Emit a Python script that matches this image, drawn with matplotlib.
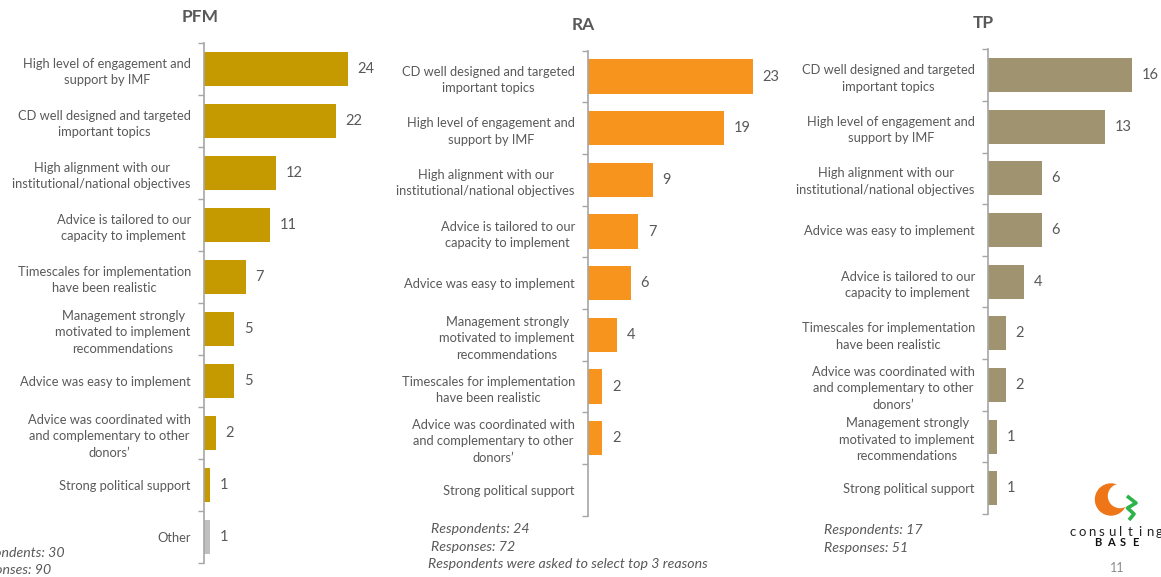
import numpy as np
import matplotlib
matplotlib.use("Agg")
import matplotlib.pyplot as plt
from matplotlib.patches import Circle

plt.rcParams['font.family'] = ['Lato', 'DejaVu Sans']

W, H, DPI = 1161, 577, 100

# ---- data -------------------------------------------------------------
pfm_labels = [
    "High level of engagement and\nsupport by IMF",
    "CD well designed and targeted\nimportant topics",
    "High alignment with our\ninstitutional/national objectives",
    "Advice is tailored to our\ncapacity to implement",
    "Timescales for implementation\nhave been realistic",
    "Management strongly\nmotivated to implement\nrecommendations",
    "Advice was easy to implement",
    "Advice was coordinated with\nand complementary to other\ndonors\u2019",
    "Strong political support",
    "Other",
]
pfm_values = [24, 22, 12, 11, 7, 5, 5, 2, 1, 1]

ra_labels = [
    "CD well designed and targeted\nimportant topics",
    "High level of engagement and\nsupport by IMF",
    "High alignment with our\ninstitutional/national objectives",
    "Advice is tailored to our\ncapacity to implement",
    "Advice was easy to implement",
    "Management strongly\nmotivated to implement\nrecommendations",
    "Timescales for implementation\nhave been realistic",
    "Advice was coordinated with\nand complementary to other\ndonors\u2019",
    "Strong political support",
]
ra_values = [23, 19, 9, 7, 6, 4, 2, 2, 0]

tp_labels = [
    "CD well designed and targeted\nimportant topics",
    "High level of engagement and\nsupport by IMF",
    "High alignment with our\ninstitutional/national objectives",
    "Advice was easy to implement",
    "Advice is tailored to our\ncapacity to implement",
    "Timescales for implementation\nhave been realistic",
    "Advice was coordinated with\nand complementary to other\ndonors\u2019",
    "Management strongly\nmotivated to implement\nrecommendations",
    "Strong political support",
]
tp_values = [16, 13, 6, 6, 4, 2, 2, 1, 1]

GOLD = "#C49A00"
ORANGE = "#F7941D"
KHAKI = "#A09370"
GREY_BAR = "#BFBFBF"
TEXT = "#595959"
SPINE = "#A6A6A6"

pfm_colors = [GOLD] * (len(pfm_values) - 1) + [GREY_BAR]
ra_colors = [ORANGE] * len(ra_values)
tp_colors = [KHAKI] * len(tp_values)

fig = plt.figure(figsize=(W / DPI, H / DPI), dpi=DPI)
fig.patch.set_facecolor("white")


def px_axes(left, top, width, height):
    return fig.add_axes([left / W, 1 - (top + height) / H, width / W, height / H])


def panel(ax, labels, values, colors, xmax):
    n = len(values)
    pos = np.arange(n)
    ax.barh(pos, values, height=0.66, color=colors, zorder=2)
    for p, v in zip(pos, values):
        if v > 0:
            ax.annotate(str(v), (v, p), xytext=(7, 0), textcoords="offset points",
                        va="center", ha="left", fontsize=10.5, color=TEXT)
    ax.set_xlim(0, xmax)
    ax.set_ylim(n - 0.5, -0.5)
    ax.set_yticks(pos)
    ax.set_yticklabels(labels, fontsize=9.3, color=TEXT)
    for t in ax.get_yticklabels():
        t.set_multialignment("center")
        t.set_linespacing(1.45)
    ax.set_yticks(np.arange(n + 1) - 0.5, minor=True)
    ax.tick_params(axis="y", which="major", length=0, pad=9.5)
    ax.tick_params(axis="y", which="minor", length=4, width=1, color=SPINE, direction="out")
    ax.set_xticks([])
    for s in ("top", "right", "bottom"):
        ax.spines[s].set_visible(False)
    ax.spines["left"].set_color(SPINE)
    ax.spines["left"].set_linewidth(1.2)
    ax.patch.set_alpha(0)


ax1 = px_axes(204, 43, 26 * 6.0, 520)
panel(ax1, pfm_labels, pfm_values, pfm_colors, 26)

ax2 = px_axes(588, 50.7, 25 * 7.17, 465)
panel(ax2, ra_labels, ra_values, ra_colors, 25)

ax3 = px_axes(988, 49.3, 17 * 8.98, 464.7)
panel(ax3, tp_labels, tp_values, tp_colors, 17)

# ---- overlay in pixel coordinates: titles, notes, logo ---------------
deco = fig.add_axes([0, 0, 1, 1], zorder=5)
deco.set_xlim(0, W)
deco.set_ylim(H, 0)
deco.set_axis_off()

title_kw = dict(ha="center", va="center", fontsize=12.5, fontweight="bold", color=TEXT)
deco.text(200, 16.5, "PFM", **title_kw)
deco.text(583, 24.5, "RA", **title_kw)
deco.text(983, 23, "TP", **title_kw)

note_kw = dict(va="center", fontsize=10.2, style="italic", color=TEXT)
deco.text(65, 553, "Respondents: 30", ha="right", **note_kw)
deco.text(51, 570, "Responses: 90", ha="right", **note_kw)

deco.text(431, 529, "Respondents: 24", ha="left", **note_kw)
deco.text(431, 547, "Responses: 72", ha="left", **note_kw)
deco.text(428, 564.5, "Respondents were asked to select top 3 reasons", ha="left", **note_kw)

deco.text(824, 530, "Respondents: 17", ha="left", **note_kw)
deco.text(824, 548, "Responses: 51", ha="left", **note_kw)

# logo mark
deco.add_patch(Circle((1111, 499.5), 15.5, color="#EE7518", zorder=6))
deco.add_patch(Circle((1120, 496), 11.5, color="white", zorder=7))
deco.plot([1127, 1136, 1127.5, 1134, 1129], [496, 503, 508, 514, 520],
          color="#2DB34A", lw=2.6, solid_capstyle="butt", solid_joinstyle="round", zorder=8)
for i, ch in enumerate("consulting"):
    deco.text(1073 + i * 9.6, 531.5, ch, ha="center", va="center",
              fontsize=9.5, color="#222222")
for i, ch in enumerate("BASE"):
    deco.text(1098 + i * 12.5, 543, ch, ha="center", va="center",
              fontsize=8, fontweight="bold", color="#111111")
deco.text(1117, 568, "11", ha="center", va="center", fontsize=9, color="#8C8C8C")

fig.savefig("out.png", dpi=DPI)
